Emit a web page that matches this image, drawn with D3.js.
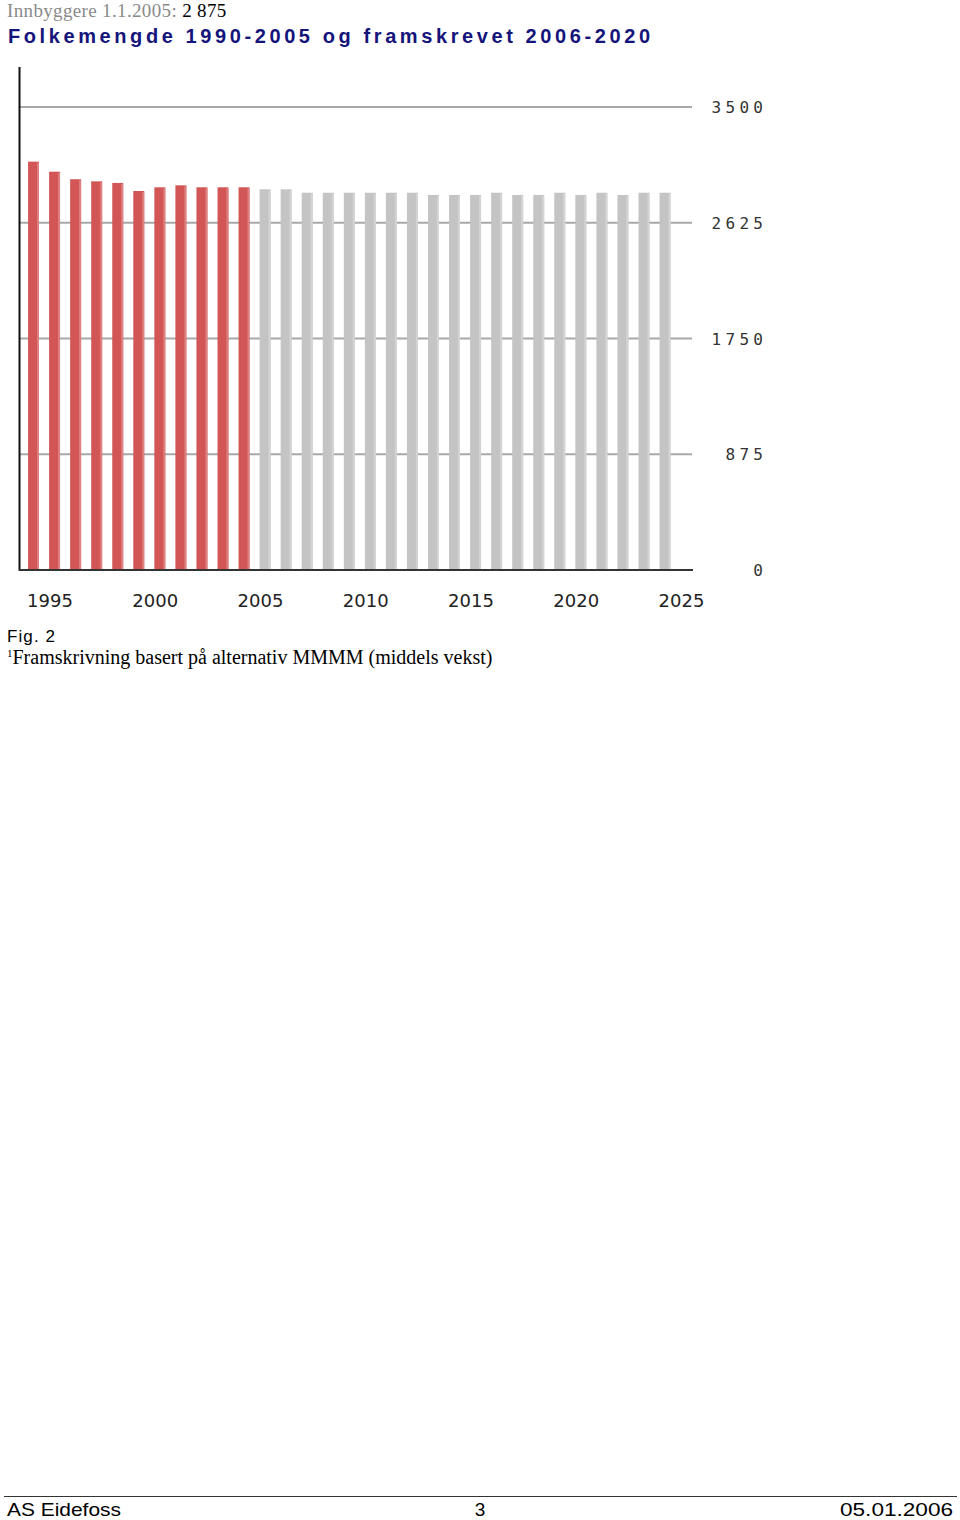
<!DOCTYPE html>
<html><head><meta charset="utf-8">
<script src="https://cdn.jsdelivr.net/npm/d3@7"></script>
<style>body{margin:0;background:#fff}svg{display:block}</style>
</head><body>
<script>
const years = d3.range(1995, 2026);
const observedValues = [3087, 3011, 2954, 2938, 2926, 2865, 2893, 2908, 2893, 2893, 2893];
const projectedValues = [2878, 2878, 2852, 2852, 2852, 2852, 2852, 2852, 2835, 2835, 2835, 2852, 2835, 2835, 2852, 2835, 2852, 2835, 2852, 2852];
const yTicks = [0, 875, 1750, 2625, 3500];
const xTickYears = [1995, 2000, 2005, 2010, 2015, 2020, 2025];
const values = observedValues.concat(projectedValues);
const data = years.map((y, i) => ({year: y, value: values[i], observed: i < observedValues.length}));

const W = 960, H = 1520;
const svg = d3.select("body").append("svg").attr("width", W).attr("height", H);

// header
const h1 = svg.append("text").attr("x", 7).attr("y", 17)
  .style("font-family", "Liberation Serif").style("font-size", "19px")
  .style("letter-spacing", "0.35px");
h1.append("tspan").attr("fill", "#8a8a8a").text("Innbyggere 1.1.2005: ");
h1.append("tspan").attr("fill", "#000").text("2 875");

svg.append("text").attr("x", 8).attr("y", 43)
  .attr("textLength", 642).attr("lengthAdjust", "spacing")
  .style("font-family", "Liberation Sans").style("font-weight", "bold")
  .style("font-size", "20px").attr("fill", "#14147a")
  .text("Folkemengde 1990-2005 og framskrevet 2006-2020");

// scales
const x = d3.scaleBand().domain(years).range([23, 23 + 31 * 21.05])
  .paddingInner(0.48).paddingOuter(0.24);
const y = d3.scaleLinear().domain([0, 3500]).range([570, 107]);

// gridlines
svg.append("g").selectAll("line").data(yTicks.filter(d => d > 0)).join("line")
  .attr("x1", 20).attr("x2", 692)
  .attr("y1", d => y(d)).attr("y2", d => y(d))
  .attr("stroke", "#a8a8a8").attr("stroke-width", 2);

// bars
const bars = svg.append("g").selectAll("g").data(data).join("g");
bars.append("rect")
  .attr("x", d => x(d.year)).attr("width", x.bandwidth())
  .attr("y", d => y(d.value)).attr("height", d => y(0) - y(d.value))
  .attr("fill", d => d.observed ? "#d25656" : "#c4c4c4");
bars.append("rect")
  .attr("x", d => x(d.year) + x.bandwidth() - 2).attr("width", 2)
  .attr("y", d => y(d.value) + 1).attr("height", d => y(0) - y(d.value) - 1)
  .attr("fill", d => d.observed ? "#de8080" : "#d4d4d4");

// axes lines
svg.append("line").attr("x1", 19.5).attr("x2", 19.5).attr("y1", 67).attr("y2", 571)
  .attr("stroke", "#111").attr("stroke-width", 2);
svg.append("line").attr("x1", 19).attr("x2", 693).attr("y1", y(0)).attr("y2", y(0))
  .attr("stroke", "#333").attr("stroke-width", 2);

// y labels
svg.append("g").selectAll("text").data(yTicks).join("text")
  .attr("x", 763).attr("y", d => y(d) + 6)
  .attr("text-anchor", "end")
  .style("font-family", "DejaVu Sans Mono").style("font-size", "16px")
  .style("letter-spacing", "4.3px")
  .attr("fill", "#333")
  .text(d => d)
  .attr("dx", 4.3);

// x labels
svg.append("g").selectAll("text").data(xTickYears).join("text")
  .attr("x", d => x(d) - 1).attr("y", 607)
  .style("font-family", "DejaVu Sans").style("font-size", "18px")
  .attr("fill", "#222")
  .text(d => d);

// captions
svg.append("text").attr("x", 7).attr("y", 642)
  .attr("textLength", 48).attr("lengthAdjust", "spacing")
  .style("font-family", "Liberation Sans").style("font-size", "17px").attr("fill", "#000")
  .text("Fig. 2");
const fn = svg.append("text").attr("x", 7).attr("y", 664)
  .style("font-family", "Liberation Serif").style("font-size", "20px").attr("fill", "#000");
fn.append("tspan").attr("font-size", "11px").attr("dy", -7).text("1");
fn.append("tspan").attr("dy", 7).text("Framskrivning basert på alternativ MMMM (middels vekst)");

// footer
svg.append("line").attr("x1", 4).attr("x2", 957).attr("y1", 1496.5).attr("y2", 1496.5)
  .attr("stroke", "#333").attr("stroke-width", 1);
const ft = svg.append("g").style("font-family", "Liberation Sans").style("font-size", "19px").attr("fill", "#000");
ft.append("text").attr("x", 7).attr("y", 1516).attr("textLength", 114).attr("lengthAdjust", "spacingAndGlyphs").text("AS Eidefoss");
ft.append("text").attr("x", 480).attr("y", 1516).attr("text-anchor", "middle").text("3");
ft.append("text").attr("x", 840).attr("y", 1516).attr("textLength", 113).attr("lengthAdjust", "spacingAndGlyphs").text("05.01.2006");
</script>
</body></html>
